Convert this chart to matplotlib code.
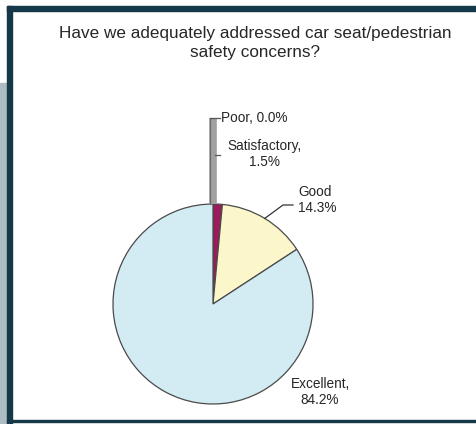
import numpy as np
import matplotlib
matplotlib.use('Agg')
import matplotlib.pyplot as plt
from matplotlib.patches import Rectangle

plt.rcParams['font.family'] = ['Liberation Sans', 'DejaVu Sans']

title = 'Have we adequately addressed car seat/pedestrian\nsafety concerns?'
categories = ['Poor', 'Satisfactory', 'Good', 'Excellent']
percents = [0.0, 1.5, 14.3, 84.2]
colors = ['#a6a6a6', '#9c1b5c', '#fbf7cb', '#d3ebf3']

W, H = 477, 424
fig = plt.figure(figsize=(W / 100, H / 100), dpi=100)

# page frame decoration
frame = '#16394a'
fig.patches.append(Rectangle((0, 0), 7 / W, (H - 83) / H, transform=fig.transFigure,
                             color='#aebcc4', zorder=0))
fig.patches.append(Rectangle((7 / W, 0), 5 / W, (H - 6) / H, transform=fig.transFigure,
                             color=frame, zorder=1))
fig.patches.append(Rectangle((7 / W, (H - 11) / H), 1 - 7 / W, 5 / H,
                             transform=fig.transFigure, color=frame, zorder=1))
fig.patches.append(Rectangle((7 / W, 2 / H), 1 - 7 / W, 2 / H,
                             transform=fig.transFigure, color=frame, zorder=1))

fig.text(255 / W, 1 - 43 / H, title, ha='center', va='center',
         fontsize=12.3, color='#262626', linespacing=1.3)

# axes in which 1 unit = 100 px, pie centre at (213, 304) px
cx, cy = 213, 304
ax = fig.add_axes([0, 0, 1, 1])
ax.patch.set_alpha(0)
wedges, _ = ax.pie(percents, colors=colors, startangle=90, counterclock=False,
                   radius=1.0, wedgeprops=dict(edgecolor='#4a4a4a', linewidth=0.9))
ax.set_xlim(-cx / 100, (W - cx) / 100)
ax.set_ylim(-(H - cy) / 100, cy / 100)
ax.set_aspect('auto')
ax.axis('off')


def rim(w):
    a = np.deg2rad((w.theta1 + w.theta2) / 2)
    return np.cos(a), np.sin(a)


txt = dict(fontsize=9.8, color='#262626', linespacing=1.2)

# Poor and Satisfactory share a grey vertical leader
px, py = rim(wedges[0])
ax.plot([px, px], [py, 1.86], color='#a0a0a0', lw=5.5, solid_capstyle='butt', zorder=3)
ax.plot([px - 0.027, px - 0.027], [py, 1.86], color='#666666', lw=0.8, zorder=4)
ax.plot([px - 0.027, 0.07], [1.86, 1.86], color='#555555', lw=0.9, zorder=4)
ax.plot([px + 0.02, 0.07], [1.49, 1.49], color='#555555', lw=0.9, zorder=4)
ax.text(0.08, 1.86, '%s, %.1f%%' % (categories[0], percents[0]),
        ha='left', va='center', **txt)
ax.text(0.52, 1.50, '%s,\n%.1f%%' % (categories[1], percents[1]),
        ha='center', va='center', **txt)

gx, gy = rim(wedges[2])
ax.plot([gx, 0.70, 0.80], [gy, 0.99, 0.99], color='#333333', lw=0.9)
ax.text(0.85, 1.04, '%s\n%.1f%%' % (categories[2], percents[2]),
        ha='left', va='center', **txt)

ax.text(1.07, -0.88, '%s,\n%.1f%%' % (categories[3], percents[3]),
        ha='center', va='center', **txt)

fig.savefig('out.png', dpi=100, facecolor='white')
